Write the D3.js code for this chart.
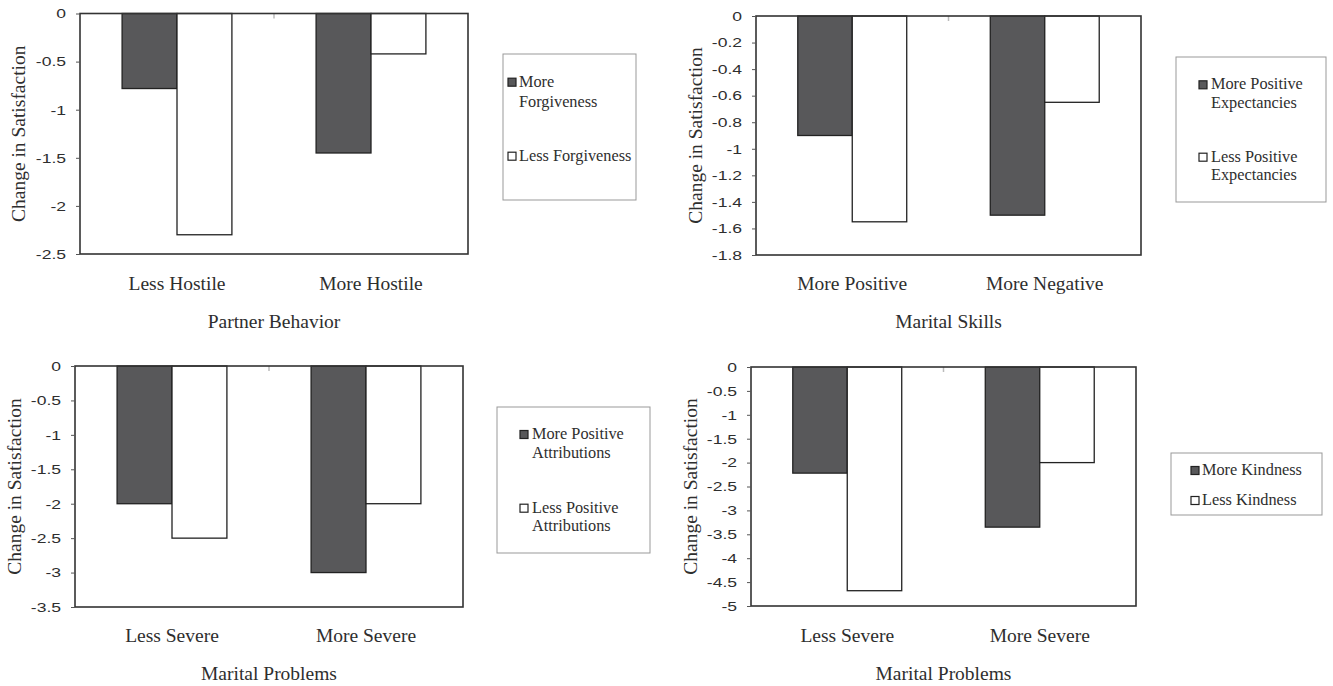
<!DOCTYPE html>
<html>
<head>
<meta charset="utf-8">
<script src="https://cdn.jsdelivr.net/npm/d3@7"></script>
<style>
  body { margin: 0; background: #fff; }
  .serif { font-family: "Liberation Serif", "Times New Roman", serif; fill: #2e2e2e; }
  .tick text { font-family: "Liberation Sans", Arial, sans-serif; fill: #2e2e2e; }
</style>
</head>
<body>
<script>
// data
var partnerCats = ["Less Hostile", "More Hostile"];
var moreForgiveness = [-0.78, -1.45];
var lessForgiveness = [-2.3, -0.42];
var ticksForgiveness = [0, -0.5, -1, -1.5, -2, -2.5];

var skillsCats = ["More Positive", "More Negative"];
var morePosExpect = [-0.9, -1.5];
var lessPosExpect = [-1.55, -0.65];
var ticksExpect = [0, -0.2, -0.4, -0.6, -0.8, -1, -1.2, -1.4, -1.6, -1.8];

var problemCats = ["Less Severe", "More Severe"];
var morePosAttrib = [-2, -3];
var lessPosAttrib = [-2.5, -2];
var ticksAttrib = [0, -0.5, -1, -1.5, -2, -2.5, -3, -3.5];

var moreKindness = [-2.22, -3.35];
var lessKindness = [-4.68, -2.0];
var ticksKindness = [0, -0.5, -1, -1.5, -2, -2.5, -3, -3.5, -4, -4.5, -5];

var seriesColors = ["#58585a", "#ffffff"];

// panel layout (positions only)
var panels = [
  { cats: partnerCats, series: [moreForgiveness, lessForgiveness], ticks: ticksForgiveness,
    xTitle: "Partner Behavior",
    plot: {x: 80, y: 13.5, w: 388, h: 240.5}, catY: 290, titleY: 328, yLabX: 25,
    legend: {x: 503, y: 54, w: 133, h: 146, sw: 508, tx: 519,
      items: [["More", "Forgiveness"], ["Less Forgiveness"]], base: [[86.7, 106.7], [160.7]]} },
  { cats: skillsCats, series: [morePosExpect, lessPosExpect], ticks: ticksExpect,
    xTitle: "Marital Skills",
    plot: {x: 756, y: 16, w: 385, h: 239}, catY: 290, titleY: 328, yLabX: 702,
    legend: {x: 1176, y: 57, w: 150, h: 145, sw: 1199, tx: 1211,
      items: [["More Positive", "Expectancies"], ["Less Positive", "Expectancies"]], base: [[89.3, 108], [161.7, 180]]} },
  { cats: problemCats, series: [morePosAttrib, lessPosAttrib], ticks: ticksAttrib,
    xTitle: "Marital Problems",
    plot: {x: 75, y: 366, w: 388, h: 241}, catY: 642, titleY: 680, yLabX: 21,
    legend: {x: 497, y: 407, w: 153, h: 146, sw: 520, tx: 532,
      items: [["More Positive", "Attributions"], ["Less Positive", "Attributions"]], base: [[439, 458.3], [512.7, 530.7]]} },
  { cats: problemCats, series: [moreKindness, lessKindness], ticks: ticksKindness,
    xTitle: "Marital Problems",
    plot: {x: 751, y: 367, w: 385, h: 239}, catY: 642, titleY: 680, yLabX: 697,
    legend: {x: 1171, y: 453, w: 151, h: 62, sw: 1191, tx: 1202,
      items: [["More Kindness"], ["Less Kindness"]], base: [[475], [505]]} }
];

var svg = d3.select("body").append("svg")
    .attr("width", 1333)
    .attr("height", 686);

panels.forEach(function(p){
  var g = svg.append("g").attr("transform", "translate(" + p.plot.x + "," + p.plot.y + ")");

  var y = d3.scaleLinear()
      .domain([d3.min(p.ticks), 0])
      .range([p.plot.h, 0]);

  var x0 = d3.scaleBand()
      .domain(p.cats)
      .range([0, p.plot.w])
      .paddingInner(0.434)
      .paddingOuter(0.217);

  var x1 = d3.scaleBand()
      .domain(d3.range(p.series.length))
      .range([0, x0.bandwidth()]);

  // plot background
  g.append("rect")
      .attr("width", p.plot.w).attr("height", p.plot.h)
      .style("fill", "#fff");

  // bars
  p.cats.forEach(function(c, ci){
    p.series.forEach(function(s, si){
      g.append("rect")
          .attr("x", x0(c) + x1(si))
          .attr("y", y(0))
          .attr("width", x1.bandwidth())
          .attr("height", y(s[ci]) - y(0))
          .style("fill", seriesColors[si])
          .style("stroke", "#222")
          .style("stroke-width", 1.3);
    });
  });

  // small category tick at the zero line
  g.append("line")
      .attr("x1", x0.step()).attr("x2", x0.step())
      .attr("y1", y(0)).attr("y2", y(0) + 5)
      .style("stroke", "#bbb").style("stroke-width", 1.5);

  // frame
  g.append("rect")
      .attr("width", p.plot.w).attr("height", p.plot.h)
      .style("fill", "none")
      .style("stroke", "#333")
      .style("stroke-width", 1.6);

  // y axis
  var yAxis = d3.axisLeft(y)
      .tickValues(p.ticks)
      .tickSize(4)
      .tickFormat(function(d){ return String(d); });
  var ax = g.append("g").call(yAxis);
  ax.select(".domain").remove();
  ax.selectAll(".tick line").style("stroke", "#555");
  ax.selectAll(".tick text")
      .attr("x", -14 / 1.3)
      .attr("transform", "scale(1.3,1)")
      .style("font-size", "13.5px");

  // category labels
  g.selectAll(".cat")
      .data(p.cats)
      .enter()
      .append("text")
        .attr("class", "serif")
        .attr("text-anchor", "middle")
        .attr("x", function(d){ return x0(d) + x0.bandwidth() / 2; })
        .attr("y", p.catY - p.plot.y)
        .style("font-size", "19.5px")
        .text(function(d){ return d; });

  // x title
  svg.append("text")
      .attr("class", "serif")
      .attr("text-anchor", "middle")
      .attr("x", p.plot.x + p.plot.w / 2)
      .attr("y", p.titleY)
      .style("font-size", "19.5px")
      .text(p.xTitle);

  // y title
  svg.append("text")
      .attr("class", "serif")
      .attr("text-anchor", "middle")
      .attr("transform", "translate(" + p.yLabX + "," + (p.plot.y + p.plot.h / 2) + ") rotate(-90)")
      .style("font-size", "19.5px")
      .text("Change in Satisfaction");

  // legend
  var L = p.legend;
  svg.append("rect")
      .attr("x", L.x).attr("y", L.y)
      .attr("width", L.w).attr("height", L.h)
      .style("fill", "#fff")
      .style("stroke", "#999")
      .style("stroke-width", 1);

  L.items.forEach(function(lines, i){
    svg.append("rect")
        .attr("x", L.sw)
        .attr("y", L.base[i][0] - 8.5)
        .attr("width", 8).attr("height", 8)
        .style("fill", seriesColors[i])
        .style("stroke", "#222")
        .style("stroke-width", 1.2);
    lines.forEach(function(t, li){
      svg.append("text")
          .attr("class", "serif")
          .attr("x", L.tx)
          .attr("y", L.base[i][li])
          .style("font-size", "16.3px")
          .text(t);
    });
  });
});
</script>
</body>
</html>
